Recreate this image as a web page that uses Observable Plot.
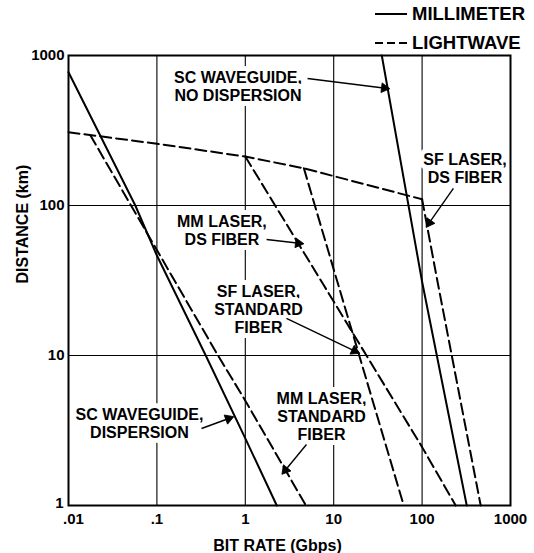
<!DOCTYPE html>
<html><head><meta charset="utf-8">
<script src="https://cdn.jsdelivr.net/npm/d3@7"></script>
<script src="https://cdn.jsdelivr.net/npm/@observablehq/plot@0.6"></script>
<style>
body{margin:0;background:#fff;}
#wrap{position:relative;width:534px;height:553px;overflow:hidden;font-family:"Liberation Sans",Arial,Helvetica,sans-serif;}
#legend{position:absolute;left:375px;top:0;font-weight:bold;font-size:18.5px;color:#000;}
#legend .row{position:absolute;left:0;white-space:nowrap;display:flex;align-items:center;height:20px;}
#legend svg{display:block;margin-right:5px;}
</style></head><body>
<div id="wrap"><div id="legend"></div></div>
<script>
// ---- data (bit rate in Gbps, distance in km) ----
const legendNames = ["MILLIMETER", "LIGHTWAVE"];

const scDispRate = [0.01, 0.057, 0.1, 0.357, 1, 2.27];
const scDispDist = [774, 100, 46.4, 10, 2.8, 1];

const scNoDispRate = [35, 100, 320];
const scNoDispDist = [1000, 31, 1];

const lossRate = [0.01, 0.1, 1, 4.6, 10, 100];
const lossDist = [308, 258, 212, 177, 157, 110];

const mmStdRate = [0.0176, 0.477, 1, 4.85];
const mmStdDist = [295, 10.3, 5, 1];

const mmDsRate = [1, 7.7, 100, 240];
const mmDsDist = [212, 29.5, 2.45, 1];

const sfStdRate = [4.6, 11, 62];
const sfStdDist = [177, 31, 1];

const sfDsRate = [100, 148, 460];
const sfDsDist = [110, 32, 1];

const xTicks = [0.01, 0.1, 1, 10, 100, 1000];
const xTickLabels = [".01", ".1", "1", "10", "100", "1000"];
const yTicks = [1, 10, 100, 1000];
const yTickLabels = ["1", "10", "100", "1000"];
const xGridValues = [0.1, 1, 10, 100];
const yGridValues = [10, 100];

const labelTexts = ["SC WAVEGUIDE,\nNO DISPERSION", "MM LASER,\nDS FIBER", "SF LASER,\nSTANDARD\nFIBER",
  "SF LASER,\nDS FIBER", "SC WAVEGUIDE,\nDISPERSION", "MM LASER,\nSTANDARD\nFIBER"];
const labelRate = [0.826, 0.544, 1.41, 306, 0.0635, 7.28];
const labelDist = [622, 68.1, 20.3, 178, 3.55, 3.92];

const arrowFromRate = [5.06, 1.74, 2.92, 226, 0.32, 4.92];
const arrowFromDist = [703, 59.3, 17.7, 130, 3.26, 2.55];
const arrowToRate = [40.6, 4.32, 18.6, 115, 0.698, 2.70];
const arrowToDist = [603, 55.8, 10.5, 73.6, 3.86, 1.66];

// ---- build tables ----
const series = [
  {name: "SC WAVEGUIDE, DISPERSION", kind: "MILLIMETER", rate: scDispRate, dist: scDispDist},
  {name: "SC WAVEGUIDE, NO DISPERSION", kind: "MILLIMETER", rate: scNoDispRate, dist: scNoDispDist},
  {name: "LOSS LIMIT", kind: "LIGHTWAVE", rate: lossRate, dist: lossDist},
  {name: "MM LASER, STANDARD FIBER", kind: "LIGHTWAVE", rate: mmStdRate, dist: mmStdDist},
  {name: "MM LASER, DS FIBER", kind: "LIGHTWAVE", rate: mmDsRate, dist: mmDsDist},
  {name: "SF LASER, STANDARD FIBER", kind: "LIGHTWAVE", rate: sfStdRate, dist: sfStdDist},
  {name: "SF LASER, DS FIBER", kind: "LIGHTWAVE", rate: sfDsRate, dist: sfDsDist}
];
const rows = series.flatMap(s => s.rate.map((r, i) => ({name: s.name, kind: s.kind, rate: r, dist: s.dist[i]})));
const labels = labelTexts.map((t, i) => ({text: t, rate: labelRate[i], dist: labelDist[i]}));
const arrows = arrowFromRate.map((r, i) => ({x1: r, y1: arrowFromDist[i], x2: arrowToRate[i], y2: arrowToDist[i]}));
const xFmt = new Map(xTicks.map((t, i) => [t, xTickLabels[i]]));
const yFmt = new Map(yTicks.map((t, i) => [t, yTickLabels[i]]));

const FONT = "Liberation Sans, Arial, Helvetica, sans-serif";
const dash = "11,5";

function makePlot(heads) {
  return Plot.plot({
    width: 534, height: 553,
    marginTop: 55, marginLeft: 68, marginRight: 24, marginBottom: 48,
    style: {fontFamily: FONT, fontSize: "15px", fontWeight: "bold", color: "black", background: "white", overflow: "visible"},
    x: {type: "log", domain: [0.01, 1000]},
    y: {type: "log", domain: [1, 1000]},
    marks: [
      Plot.gridX(xGridValues, {stroke: "black", strokeOpacity: 1, strokeWidth: 1.1}),
      Plot.gridY(yGridValues, {stroke: "black", strokeOpacity: 1, strokeWidth: 1.1}),
      Plot.text(labels, {x: "rate", y: "dist", text: "text", lineAnchor: "middle", lineHeight: 1.13,
        fontSize: 16, fontWeight: "bold", fill: "black", stroke: "white", strokeWidth: 10, paintOrder: "stroke", strokeLinejoin: "round"}),
      Plot.frame({stroke: "black", strokeWidth: 2}),
      Plot.axisX(xTicks.slice(0, 1), {tickSize: 0, tickPadding: 8, dx: 5, tickFormat: d => xFmt.get(d), label: null, fontSize: 15}),
      Plot.axisX(xTicks.slice(1), {tickSize: 0, tickPadding: 8, tickFormat: d => xFmt.get(d), label: null, fontSize: 15}),
      Plot.axisY(yTicks.slice(0, 1), {tickSize: 0, tickPadding: 5, dy: -2, tickFormat: d => yFmt.get(d), label: null, fontSize: 15}),
      Plot.axisY(yTicks.slice(1), {tickSize: 0, tickPadding: 4, tickFormat: d => yFmt.get(d), label: null, fontSize: 15}),
      Plot.line(rows.filter(d => d.kind === "MILLIMETER"), {x: "rate", y: "dist", z: "name", stroke: "black", strokeWidth: 2}),
      Plot.line(rows.filter(d => d.kind === "LIGHTWAVE"), {x: "rate", y: "dist", z: "name", stroke: "black", strokeWidth: 2, strokeDasharray: dash}),
      Plot.link(arrows, {x1: "x1", y1: "y1", x2: "x2", y2: "y2", stroke: "black", strokeWidth: 1.4}),
      heads ? Plot.dot(heads, {x: "hx", y: "hy", rotate: "angle", symbol: "triangle", r: 3.6, fill: "black", stroke: "black", strokeWidth: 0.8}) : null,
      Plot.text(["BIT RATE (Gbps)"], {frameAnchor: "bottom", dx: -12, dy: 40, text: d => d, fontSize: 16, fontWeight: "bold", lineAnchor: "middle"}),
      Plot.text(["DISTANCE (km)"], {frameAnchor: "left", dx: -46, dy: 3, rotate: -90, text: d => d, fontSize: 16, fontWeight: "bold", lineAnchor: "middle"})
    ]
  });
}

// first pass to get the scales, then place filled arrowheads along each arrow's direction
const first = makePlot(null);
const sx = first.scale("x"), sy = first.scale("y");
const heads = arrows.map(a => {
  const px1 = sx.apply(a.x1), py1 = sy.apply(a.y1), px2 = sx.apply(a.x2), py2 = sy.apply(a.y2);
  const ang = Math.atan2(py2 - py1, px2 - px1);
  const back = 3.2; // pull the symbol's centre back from the tip
  return {hx: sx.invert(px2 - back * Math.cos(ang)), hy: sy.invert(py2 - back * Math.sin(ang)), angle: ang * 180 / Math.PI + 90};
});
const chart = makePlot(heads);
document.getElementById("wrap").prepend(chart);

// legend above the plot
const leg = document.getElementById("legend");
legendNames.forEach((name, i) => {
  const row = document.createElement("div");
  row.className = "row";
  row.style.top = (i === 0 ? 4 : 33) + "px";
  const svg = d3.create("svg").attr("width", 32).attr("height", 4);
  svg.append("line").attr("x1", 0).attr("x2", 32).attr("y1", 2).attr("y2", 2)
    .attr("stroke", "black").attr("stroke-width", 2)
    .attr("stroke-dasharray", i === 0 ? null : "8,4");
  row.appendChild(svg.node());
  const span = document.createElement("span");
  span.textContent = name;
  row.appendChild(span);
  leg.appendChild(row);
});
</script>
</body></html>
